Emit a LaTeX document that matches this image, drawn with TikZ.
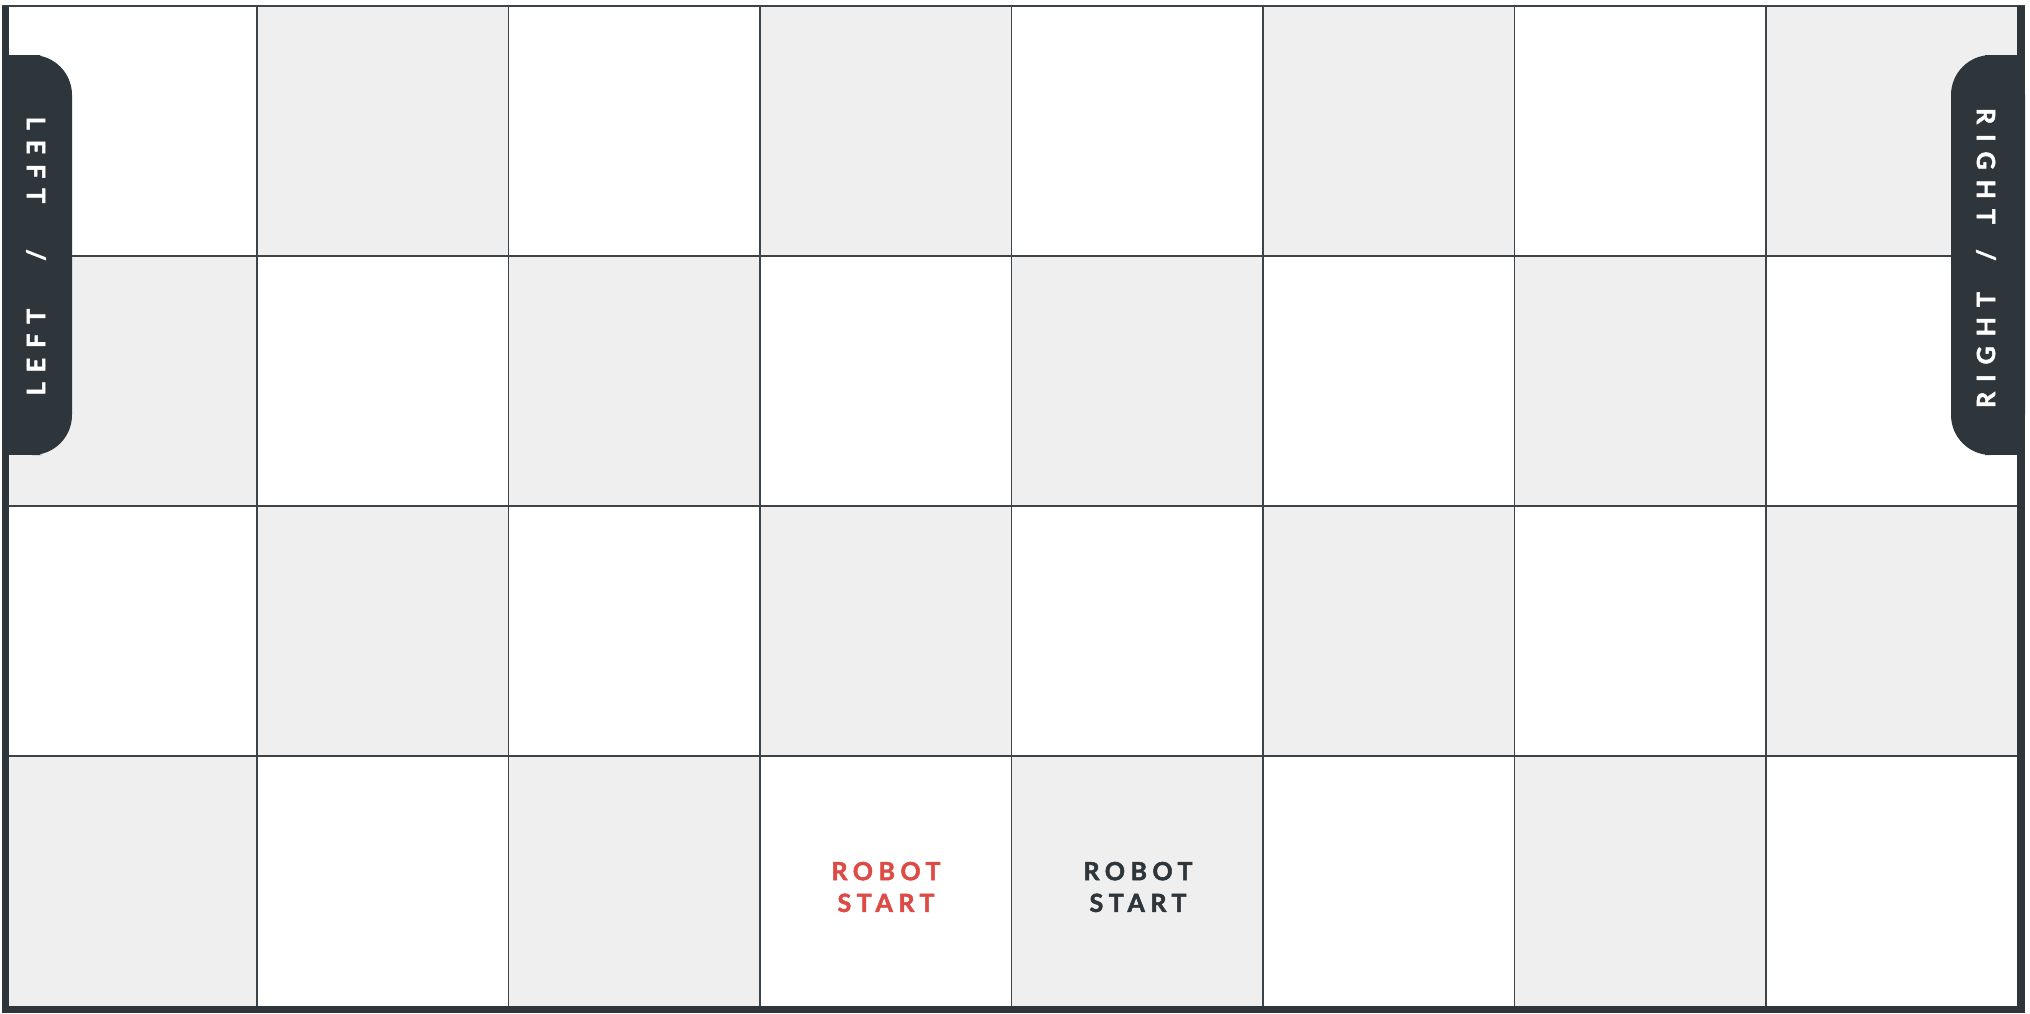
\documentclass[tikz,border=0pt]{standalone}
\usepackage{fontspec}
\setmainfont{Lato}
\newfontfamily\startfont{Lato}[LetterSpace=22, BoldFeatures={FakeBold=2}]
\newfontfamily\tabfont{Lato}[LetterSpace=40, BoldFeatures={FakeBold=2}]
\definecolor{fieldDark}{HTML}{2E353B}
\definecolor{fieldGrey}{HTML}{EFEFEF}
\definecolor{startRed}{HTML}{DD4B46}
\definecolor{gridLine}{HTML}{3C4349}

\begin{document}
\begin{tikzpicture}[
  x=1pt, y=-1pt,
  gridline/.style={draw=gridLine, line width=1.3pt},
  framebar/.style={fill=fieldDark},
  sidetab/.style={fill=fieldDark},
  tablabel/.style={text=white, inner sep=0pt,
    font=\tabfont\bfseries\fontsize{25}{25}\selectfont},
  startlabel/.style={align=center, inner sep=0pt,
    font=\startfont\bfseries\fontsize{25}{31.7}\selectfont}
]
\useasboundingbox (0,0) rectangle (2030,1013);

% checkerboard
\foreach \r in {0,...,3}{
  \foreach \c in {0,...,7}{
    \pgfmathtruncatemacro{\odd}{mod(\r+\c,2)}
    \ifnum\odd=1
      \fill[fieldGrey] (5.5+251.5*\c,6+250*\r) rectangle ++(251.5,250);
    \fi
  }
}

% grid lines
\foreach \c in {1,...,7}
  \draw[gridline] (5.5+251.5*\c,6) -- (5.5+251.5*\c,1006);
\foreach \r in {1,2,3}
  \draw[gridline] (5.5,6+250*\r) -- (2017,6+250*\r);
\draw[gridline] (2,6) -- (2025,6);

% frame
\fill[framebar] (2,6) rectangle (9,1013);
\fill[framebar] (2017,6) rectangle (2025,1013);
\fill[framebar] (2,1006) rectangle (2025,1013);

% side tabs
\fill[sidetab, rounded corners=40pt] (2,55) rectangle (72,455);
\fill[sidetab] (2,55) rectangle (40,455);
\fill[sidetab, rounded corners=40pt] (1951,55) rectangle (2025,455);
\fill[sidetab] (1990,55) rectangle (2025,455);

\node[tablabel, rotate=-90] (leftTop) at (36,160) {LEFT};
\node[tablabel, rotate=-90] (leftSlash) at (36,255) {/};
\node[tablabel, rotate=90] (leftBottom) at (36,352) {LEFT};

\node[tablabel, rotate=-90] (rightTop) at (1986,166) {RIGHT};
\node[tablabel, rotate=-90] (rightSlash) at (1986,255) {/};
\node[tablabel, rotate=90] (rightBottom) at (1986,350) {RIGHT};

% start positions
\node[startlabel, text=startRed] (redStart) at (886,887) {ROBOT\\START};
\node[startlabel, text=fieldDark] (darkStart) at (1138,887) {ROBOT\\START};

\end{tikzpicture}
\end{document}
